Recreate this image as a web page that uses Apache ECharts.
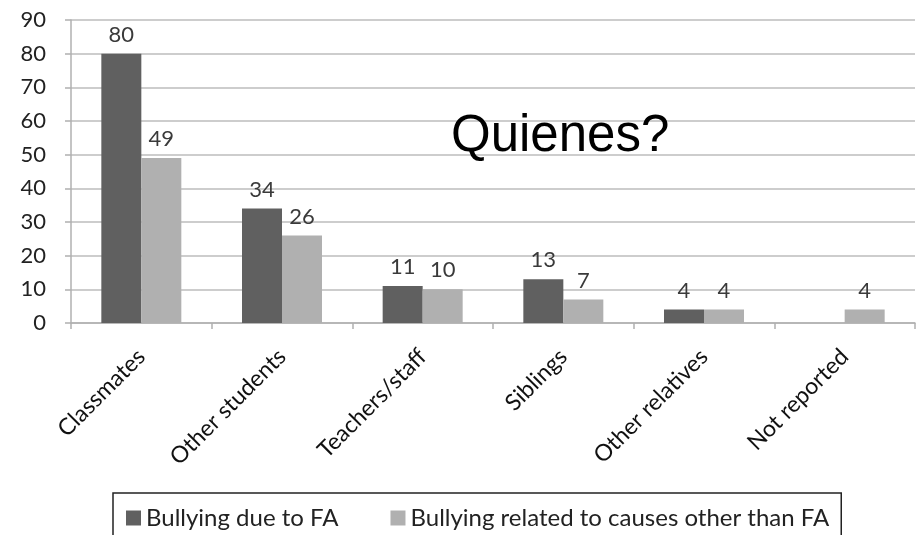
<!DOCTYPE html>
<html>
<head>
<meta charset="utf-8">
<script src="https://cdn.jsdelivr.net/npm/echarts@6/dist/echarts.min.js"></script>
<style>
  html, body { margin: 0; padding: 0; background: #fff; }
  #chart { width: 921px; height: 535px; }
</style>
</head>
<body>
<div id="chart"></div>
<script>
// Who carried out the bullying, by cause
const categories = ['Classmates', 'Other students', 'Teachers/staff', 'Siblings', 'Other relatives', 'Not reported'];
const dueToFA = [80, 34, 11, 13, 4, 0];
const otherCauses = [49, 26, 10, 7, 4, 4];
const seriesNames = ['Bullying due to FA', 'Bullying related to causes other than FA'];
const yTicks = { min: 0, max: 90, interval: 10 };

const baseFont = 'Lato, "Open Sans", sans-serif';

const chart = echarts.init(document.getElementById('chart'));

const valueLabel = {
  show: true,
  position: 'top',
  distance: 8,
  color: '#3a3a3a',
  fontFamily: baseFont,
  fontSize: 22,
  formatter: p => (p.value === 0 ? '' : String(p.value))
};

chart.setOption({
  animation: false,
  textStyle: { fontFamily: baseFont },
  title: {
    text: 'Quienes?',
    left: 451,
    top: 111,
    padding: 0,
    textStyle: {
      fontFamily: '"Liberation Sans", Arial, sans-serif',
      fontWeight: 'normal',
      fontSize: 51,
      color: '#000'
    }
  },
  grid: { left: 71, right: 6, top: 20, bottom: 212, containLabel: false },
  legend: {
    left: 113,
    top: 493,
    icon: 'rect',
    itemWidth: 15,
    itemHeight: 15,
    itemGap: 52,
    borderColor: '#222',
    borderWidth: 1.5,
    borderRadius: 0,
    padding: [13, 12, 30, 13],
    textStyle: { fontFamily: baseFont, fontSize: 24, color: '#222' },
    data: seriesNames
  },
  xAxis: {
    type: 'category',
    data: categories,
    axisLine: { show: true, lineStyle: { color: '#b0b0b0', width: 1.5 } },
    axisTick: { show: true, length: 6, lineStyle: { color: '#b0b0b0', width: 1.5 } },
    axisLabel: {
      rotate: 45,
      margin: 30,
      color: '#111',
      fontFamily: baseFont,
      fontSize: 23
    }
  },
  yAxis: {
    type: 'value',
    min: yTicks.min,
    max: yTicks.max,
    interval: yTicks.interval,
    axisLine: { show: true, lineStyle: { color: '#b0b0b0', width: 1.5 } },
    axisTick: { show: true, length: 6, inside: false, lineStyle: { color: '#b0b0b0', width: 1.5 } },
    splitLine: { lineStyle: { color: '#bdbdbd', width: 1.5 } },
    axisLabel: { color: '#222', fontFamily: baseFont, fontSize: 22, margin: 25 }
  },
  series: [
    {
      name: seriesNames[0],
      type: 'bar',
      data: dueToFA,
      barWidth: 40,
      barGap: '0%',
      itemStyle: { color: '#606060' },
      label: valueLabel
    },
    {
      name: seriesNames[1],
      type: 'bar',
      data: otherCauses,
      barWidth: 40,
      itemStyle: { color: '#b0b0b0' },
      label: valueLabel
    }
  ]
});
</script>
</body>
</html>
